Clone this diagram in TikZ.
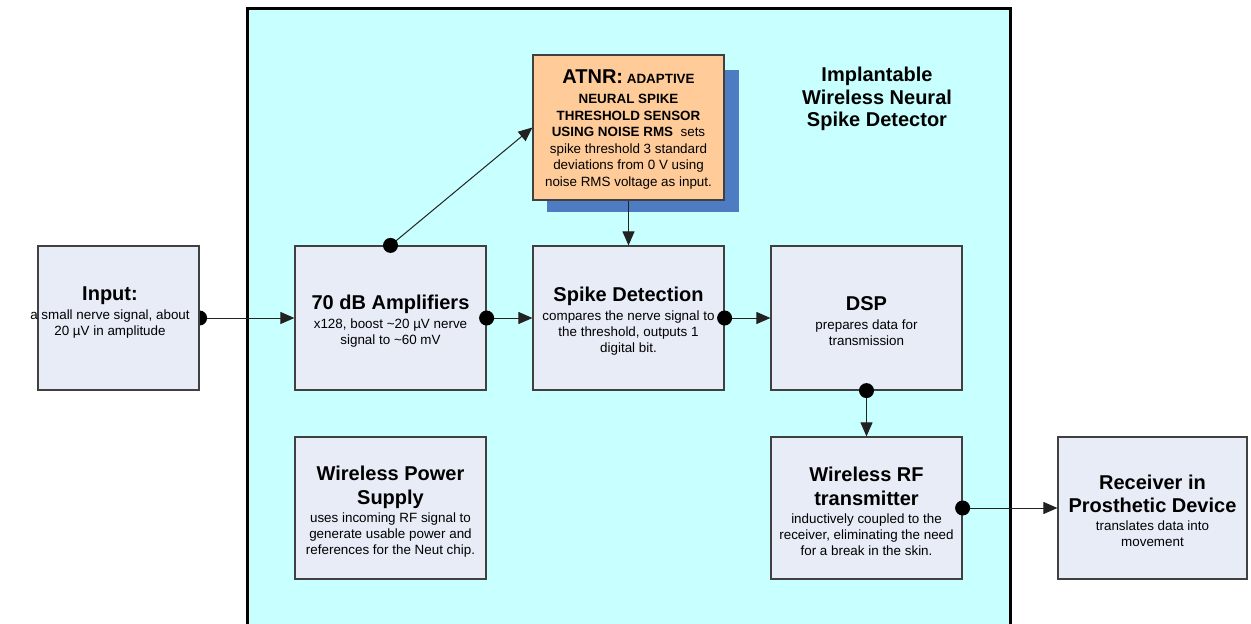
\documentclass[tikz,border=0pt]{standalone}
\usepackage{fontspec}
\setmainfont{Liberation Sans}
\usetikzlibrary{arrows.meta,backgrounds}
\definecolor{implant}{HTML}{C8FFFF}
\definecolor{boxfill}{HTML}{E7ECF7}
\definecolor{boxline}{HTML}{404040}
\definecolor{atnrfill}{HTML}{FFCC99}
\definecolor{shadowblue}{HTML}{4D7CC2}
\definecolor{wire}{HTML}{222222}
\newcommand\ttl{\fontsize{20}{24}\selectfont\bfseries}
\newcommand\bdy{\fontsize{13.4}{16}\selectfont}
\newcommand\atnrbdy{\fontsize{13.4}{16.6}\selectfont}
\newcommand\capsb{\bfseries}
\newcommand\topstrut{\rule{0pt}{21pt}}
\tikzset{
  blockbox/.style={draw=boxline, fill=boxfill, line width=1.2pt, minimum width=191pt,
    minimum height=144pt, align=center, inner sep=0pt, font=\bdy},
  lowbox/.style={blockbox, minimum height=142pt},
  conn/.style={draw=wire, line width=1pt, -{Triangle[length=14pt,width=12pt]}},
  dotmark/.style={fill=black}
}
\begin{document}
\begin{tikzpicture}[x=1pt,y=-1pt]
\useasboundingbox (0,0) rectangle (1251,624);
\begin{scope}[on background layer]
  \fill[white] (0,0) rectangle (1251,624);
  \draw[line width=3pt, fill=implant] (247.5,8.5) rectangle (1010.5,660);
\end{scope}

% nodes
\node[blockbox, minimum width=161pt] (inp) at (118.5,318) {};
\node[align=center, font=\bdy, inner sep=0pt] (inptext) at (110,313)
  {{\ttl Input:}\\[3pt] a small nerve signal, about\\ 20 µV in amplitude};
\node[blockbox] (amp) at (390.5,318)
  {\topstrut{\ttl 70 dB Amplifiers}\\[3pt] x128, boost \textasciitilde20 µV nerve\\ signal to \textasciitilde60 mV};
\node[blockbox] (spk) at (628.5,318)
  {\topstrut{\ttl Spike Detection}\\[3pt] compares the nerve signal to\\ the threshold, outputs 1\\ digital bit.};
\node[blockbox] (dsp) at (866.5,318)
  {\topstrut{\ttl DSP}\\[3pt] prepares data for\\ transmission};
\node[lowbox] (pwr) at (390.5,508)
  {\topstrut{\ttl Wireless Power}\\[8pt]{\ttl Supply}\\[2pt] uses incoming RF signal to\\ generate usable power and\\ references for the Neut chip.};
\node[lowbox] (rf) at (866.5,508)
  {\topstrut{\ttl Wireless RF}\\[8pt]{\ttl transmitter}\\[2pt] inductively coupled to the\\ receiver, eliminating the need\\ for a break in the skin.};
\node[lowbox, minimum width=189pt] (rcv) at (1152.5,508)
  {\topstrut{\ttl Receiver in}\\[7pt]{\ttl Prosthetic Device}\\[2pt] translates data into\\ movement};

% ATNR with shadow
\fill[shadowblue] (547,70) rectangle (739,212);
\node[blockbox, fill=atnrfill, minimum height=145pt, font=\atnrbdy] (atnr) at (628.5,127.5)
  {\rule{0pt}{18pt}{\ttl ATNR:} {\capsb ADAPTIVE}\\[3pt] {\capsb NEURAL SPIKE}\\ {\capsb THRESHOLD SENSOR}\\ {\capsb USING NOISE RMS}\ \ sets\\ spike threshold 3 standard\\ deviations from 0 V using\\ noise RMS voltage as input.};

\node[align=center, font=\fontsize{20}{22.5}\selectfont\bfseries] (title) at (877,99)
  {Implantable\\ Wireless Neural\\ Spike Detector};

% connectors
\begin{scope}[on background layer]
  \draw[conn] (inp.east) -- (amp.west);
  \fill[dotmark] (inp.east) circle (7.5pt);
\end{scope}
\draw[conn] (amp.east) -- (spk.west);
\fill[dotmark] (amp.east) circle (7.5pt);
\draw[conn] (spk.east) -- (dsp.west);
\fill[dotmark] (spk.east) circle (7.5pt);
\draw[conn] (amp.north) -- (atnr.west);
\fill[dotmark] (amp.north) circle (7.5pt);
\draw[conn] (atnr.south) -- (spk.north);
\draw[conn] (dsp.south) -- (rf.north);
\fill[dotmark] (dsp.south) circle (7.5pt);
\draw[conn] (rf.east) -- (rcv.west);
\fill[dotmark] (rf.east) circle (7.5pt);
\end{tikzpicture}
\end{document}
